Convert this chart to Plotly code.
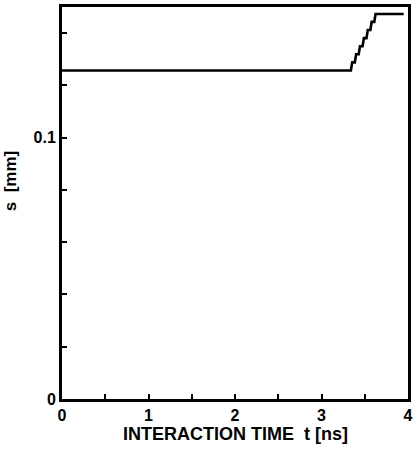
import plotly.graph_objects as go

# data
t_ns = [0, 3.34, 3.355, 3.385, 3.40, 3.43, 3.445, 3.475, 3.49, 3.52, 3.535, 3.565, 3.58, 3.61, 3.625, 3.655, 3.67, 3.95]
s_mm = [0.1257, 0.1257, 0.1288, 0.1288, 0.1319, 0.1319, 0.1350, 0.1350, 0.1381, 0.1381,
        0.1412, 0.1412, 0.1443, 0.1443, 0.1473, 0.1473, 0.1473, 0.1473]
x_ticks = [0, 0.5, 1, 1.5, 2, 2.5, 3, 3.5, 4]
x_ticktext = ["0", "", "1", "", "2", "", "3", "", "4"]
y_ticks = [0, 0.02, 0.04, 0.06, 0.08, 0.10, 0.12, 0.14]
y_ticktext = ["0", "", "", "", "", "0.1", "", ""]

FONT = "Liberation Sans, Arial, sans-serif"

fig = go.Figure()
fig.add_trace(go.Scatter(x=t_ns, y=s_mm, mode="lines",
                         line=dict(color="black", width=2.6), showlegend=False))

fig.update_layout(
    width=417, height=452,
    margin=dict(l=62, r=6, t=4, b=53),
    plot_bgcolor="white", paper_bgcolor="white",
    font=dict(family=FONT, size=16, color="black"),
    xaxis=dict(range=[0, 4], tickvals=x_ticks, ticktext=x_ticktext,
               ticks="inside", ticklen=5, tickwidth=2, tickcolor="black",
               showline=True, linewidth=3, linecolor="black", mirror=True,
               showgrid=False, zeroline=False,
               tickfont=dict(size=16, weight="bold")),
    yaxis=dict(range=[0, 0.15], tickvals=y_ticks, ticktext=y_ticktext,
               ticks="inside", ticklen=5, tickwidth=2, tickcolor="black",
               showline=True, linewidth=3, linecolor="black", mirror=True,
               showgrid=False, zeroline=False, tickfont=dict(size=16, weight="bold")),
    annotations=[
        dict(text="s  [mm]", xref="paper", yref="paper", x=-0.148, y=0.555,
             textangle=-90, showarrow=False, font=dict(size=17, weight="bold"),
             xanchor="center", yanchor="middle"),
        dict(text="INTERACTION TIME  t [ns]", xref="paper", yref="paper", x=0.5, y=-0.089,
             showarrow=False, font=dict(size=18, weight="bold"),
             xanchor="center", yanchor="middle"),
    ],
)

fig.write_html("out.html")
